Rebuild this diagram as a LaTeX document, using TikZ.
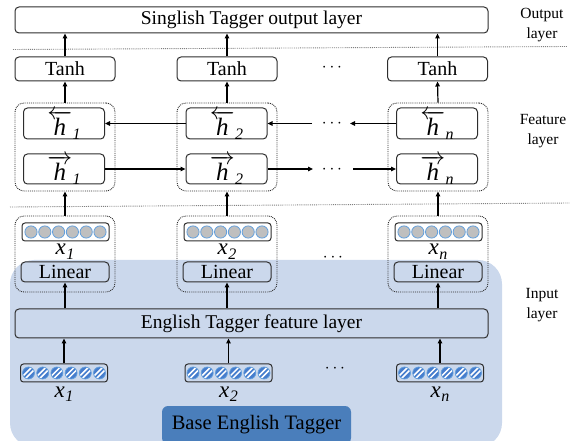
\documentclass[tikz,border=0pt]{standalone}
\usepackage{fontspec}
\setmainfont{Liberation Serif}
\usetikzlibrary{arrows.meta}
\definecolor{bgblue}{RGB}{203,216,236}
\definecolor{baseblue}{RGB}{74,126,187}
\definecolor{circblue}{RGB}{100,160,220}
\definecolor{hatchblue}{RGB}{70,125,205}
\definecolor{circgray}{RGB}{191,191,191}
\definecolor{boxline}{RGB}{45,45,45}
\newcommand\subl[1]{\kern0.5pt\raisebox{-4.5pt}{\fontsize{16}{16}\selectfont\textit{#1}}}
\newcommand\hback[1]{$\overleftarrow{\mbox{\textit{h}}}$\subl{#1}}
\newcommand\hfwd[1]{$\overrightarrow{\mbox{\textit{h}}}$\subl{#1}}
\newcommand\xlab[1]{\textit{x}\subl{#1}}
\begin{document}
\begin{tikzpicture}[x=1pt,y=-1pt,
  box/.style={draw=boxline, line width=1pt, rounded corners=4pt, inner sep=0pt, font=\fontsize{20}{22}\selectfont},
  wide/.style={box, font=\fontsize{19.5}{22}\selectfont},
  grp/.style={draw=boxline, densely dotted, line width=0.9pt, rounded corners=9pt, inner sep=0pt},
  arr/.style={-{Triangle[length=5pt,width=4.5pt]}, line width=1.2pt},
  sep/.style={draw=gray, densely dotted, line width=0.9pt},
  lbl/.style={align=center, font=\fontsize{15.5}{20}\selectfont},
  hl/.style={font=\fontsize{25}{28}\selectfont, anchor=base, inner sep=0pt},
  xl/.style={font=\fontsize{23}{25}\selectfont, anchor=base, inner sep=0pt},
  dotsl/.style={font=\fontsize{16}{18}\selectfont, inner sep=0pt}]
\useasboundingbox (0,0) rectangle (574,441);
% background of base tagger
\fill[bgblue, rounded corners=24pt] (10,260) rectangle (502,447);
\node[fill=baseblue, rounded corners=6pt, minimum width=189pt, minimum height=38pt, inner sep=0pt,
  font=\fontsize{20.5}{24}\selectfont] (base) at (256.5,425) {Base English Tagger};

% separators
\draw[sep] (13,49.5) -- (567,46.5);
\draw[sep] (10,207) -- (570,203);

% right labels
\node[lbl] (lo) at (542,25) {Output\\layer};
\node[lbl] (lf) at (543,131) {Feature\\layer};
\node[lbl] (li) at (542,305) {Input\\layer};

% output layer
\node[wide, minimum width=473pt, minimum height=26pt] (out) at (251.5,20) {Singlish Tagger output layer};

% tanh
\foreach \n/\x in {1/65,2/227,n/437.5}{
  \node[box, minimum width=100pt, minimum height=24pt] (t\n) at (\x,69) {Tanh};
}
\node[dotsl] (td) at (332,68) {$\cdots$};

% feature groups
\foreach \n/\x/\hx in {1/65/64,2/227/226.5,n/438/437}{
  \node[grp, minimum width=100pt, minimum height=88pt] (g\n) at (\x,147) {};
  \node[box, minimum width=81pt, minimum height=31pt] (b\n) at (\hx,123.5) {};
  \node[box, minimum width=81pt, minimum height=30pt] (f\n) at (\hx,169) {};
  \node[hl] (bl\n) at (\hx,135.5) {\hback{\n}};
  \node[hl] (fl\n) at (\hx,180.5) {\hfwd{\n}};
}
\node[dotsl] (bd) at (332,124) {$\cdots$};
\node[dotsl] (fd) at (332,170) {$\cdots$};
\coordinate (bda) at (312,123.5);
\coordinate (bdb) at (350,123.5);
\coordinate (fda) at (313,169);
\coordinate (fdb) at (353,169);

% input groups
\foreach \n/\x/\bx in {1/65/65.5,2/227/227.5,n/438/438.5}{
  \node[grp, minimum width=100pt, minimum height=76pt] (in\n) at (\x,254) {};
  \node[draw=boxline, line width=1pt, rounded corners=3pt, fill=white, minimum width=87pt, minimum height=18pt, inner sep=0pt] (v\n) at (\bx,232) {};
  \foreach \i in {-2.5,-1.5,...,2.5}{
    \draw[circblue, fill=circgray, line width=0.8pt] ([xshift=\i*13.8pt]v\n.center) circle (6.1);
  }
  \node[xl] (xl\n) at (\x,255) {\xlab{\n}};
  \node[box, minimum width=88pt, minimum height=20pt] (lin\n) at (\x,272) {Linear};
}
\node[dotsl] (id) at (333,258) {$\cdots$};

% english tagger feature layer
\node[wide, minimum width=473pt, minimum height=29pt] (feat) at (251.5,323.5) {English Tagger feature layer};

% bottom embeddings
\foreach \n/\x in {1/64,2/228.5,n/440}{
  \node[draw=boxline, line width=1pt, rounded corners=3pt, minimum width=87pt, minimum height=18pt, inner sep=0pt] (e\n) at (\x,373) {};
  \foreach \i in {-2.5,-1.5,...,2.5}{
    \begin{scope}[shift={([xshift=\i*14.2pt]e\n.center)}]
      \fill[hatchblue] (0,0) circle (6);
      \begin{scope}
        \clip (0,0) circle (6);
        \draw[white, line width=1.5pt] (-8,5.5) -- (5.5,-8);
        \draw[white, line width=1.5pt] (-5.5,8) -- (8,-5.5);
      \end{scope}
      \draw[circblue, line width=0.7pt] (0,0) circle (6);
    \end{scope}
  }
  \node[xl] (exl\n) at (\x,397) {\xlab{\n}};
}
\node[dotsl] (ed) at (335,369) {$\cdots$};

% arrows
\foreach \n in {1,2,n}{
  \draw[arr] (t\n.north) -- (t\n.north |- out.south);
  \draw[arr] (g\n.north) -- (t\n.south);
  \draw[arr] (in\n.north) -- (g\n.south);
  \draw[arr] (lin\n.south |- feat.north) -- (lin\n.south);
  \draw[arr] (e\n.north) -- (e\n.north |- feat.south);
}
\draw[arr] (b2.west) -- (b1.east);
\draw[arr] (bda) -- (b2.east);
\draw[arr] (bn.west) -- (bdb);
\draw[arr] (f1.east) -- (f2.west);
\draw[arr] (f2.east) -- (fda);
\draw[arr] (fdb) -- (fn.west);
\end{tikzpicture}
\end{document}
